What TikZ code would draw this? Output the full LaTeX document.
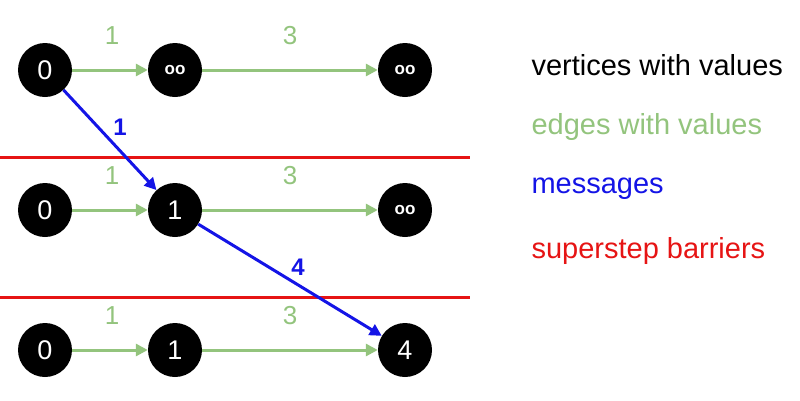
\documentclass[tikz,border=0pt]{standalone}
\usepackage{fontspec}
\setmainfont{Liberation Sans}
\usetikzlibrary{arrows.meta}
\definecolor{eg}{RGB}{147,196,125}
\definecolor{mb}{RGB}{20,20,230}
\definecolor{rb}{RGB}{230,20,20}
\begin{document}
\begin{tikzpicture}[x=1pt,y=-1pt,
  vtx/.style={circle,fill=black,text=white,minimum size=54pt,inner sep=0pt,font=\fontsize{27}{27}\selectfont},
  inf/.style={vtx,font=\fontsize{17}{17}\bfseries\selectfont},
  edg/.style={draw=eg,line width=3pt,-{Triangle[length=12pt,width=12pt]}},
  msg/.style={draw=mb,line width=3pt,-{Triangle[length=12pt,width=12pt]}},
  elab/.style={text=eg,font=\fontsize{26}{26}\selectfont},
  mlab/.style={text=mb,font=\fontsize{24}{24}\bfseries\selectfont},
  bar/.style={draw=rb,line width=3pt},
  leg/.style={anchor=west,font=\fontsize{29}{29}\selectfont}]
\useasboundingbox (0,0) rectangle (800,400);
\node[vtx] (a1) at (45,70) {0};
\node[inf] (b1) at (175,70) {oo};
\node[inf] (c1) at (405,70) {oo};
\node[vtx] (a2) at (45,210) {0};
\node[vtx] (b2) at (175,210) {1};
\node[inf] (c2) at (405,210) {oo};
\node[vtx] (a3) at (45,350) {0};
\node[vtx] (b3) at (175,350) {1};
\node[vtx] (c3) at (405,350) {4};
\foreach \r in {1,2,3}{
  \draw[edg] (a\r) -- (b\r);
  \draw[edg] (b\r) -- (c\r);
  \node[elab] (l1\r) at (112,{70+140*(\r-1)-34}) {1};
  \node[elab] (l3\r) at (290,{70+140*(\r-1)-34}) {3};
}
\coordinate (r1a) at (0,157); \coordinate (r1b) at (470,157);
\coordinate (r2a) at (0,297); \coordinate (r2b) at (470,297);
\draw[bar] (r1a) -- (r1b);
\draw[bar] (r2a) -- (r2b);
\draw[msg] (a1) -- (b2);
\draw[msg] (b2) -- (c3);
\node[mlab] (m1) at (120,127) {1};
\node[mlab] (m4) at (298,267) {4};
\node[leg] (t1) at (528,65) {vertices with values};
\node[leg,text=eg] (t2) at (528,127) {edges with values};
\node[leg,text=mb] (t3) at (528,189) {messages};
\node[leg,text=rb] (t4) at (528,251) {superstep barriers};
\end{tikzpicture}
\end{document}
